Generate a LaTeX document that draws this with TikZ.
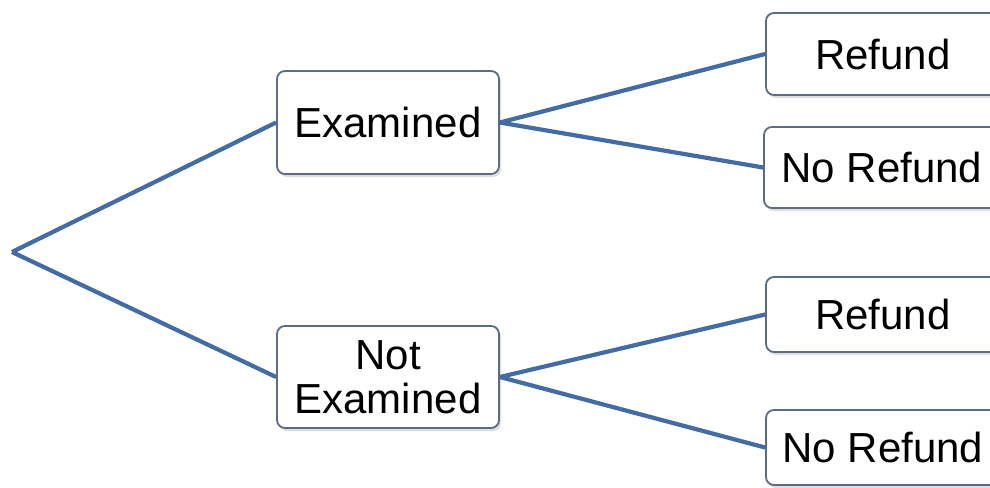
\documentclass[tikz,border=0pt]{standalone}
\usepackage{fontspec}
\setmainfont{Liberation Sans}
\usetikzlibrary{shadows}
\definecolor{linkblue}{RGB}{68,108,164}
\definecolor{boxedge}{RGB}{92,108,132}
\tikzset{
  link/.style={draw=linkblue, line width=4.2pt},
  tbox/.style={draw=boxedge, line width=1.8pt, fill=white, rounded corners=8pt,
    drop shadow={shadow xshift=2pt, shadow yshift=-3pt, fill=black!25, opacity=0.5},
    inner sep=0pt, align=center, font=\fontsize{42}{44}\selectfont},
}
\begin{document}
\begin{tikzpicture}[x=1pt, y=-1pt]
\useasboundingbox (0,0) rectangle (990,487);
\clip (0,0) rectangle (990,487);
\fill[white] (0,0) rectangle (990,487);
\coordinate (root) at (12,252);
\node[tbox, minimum width=222pt, minimum height=103pt] (ex) at (388,122.5) {Examined};
\node[tbox, minimum width=222pt, minimum height=102pt] (nex) at (388,377) {Not\\Examined};
\node[tbox, minimum width=234pt, minimum height=82pt] (r1) at (883,54) {Refund};
\node[tbox, minimum width=236pt, minimum height=81pt] (n1) at (882,167.5) {No Refund};
\node[tbox, minimum width=234pt, minimum height=75pt] (r2) at (883,314.5) {Refund};
\node[tbox, minimum width=234pt, minimum height=75pt] (n2) at (883,447.5) {No Refund};
\draw[link] (root) -- (ex.west);
\draw[link] (root) -- (nex.west);
\draw[link] (ex.east) -- (r1.west);
\draw[link] (ex.east) -- (n1.west);
\draw[link] (nex.east) -- (r2.west);
\draw[link] (nex.east) -- (n2.west);
\end{tikzpicture}
\end{document}
